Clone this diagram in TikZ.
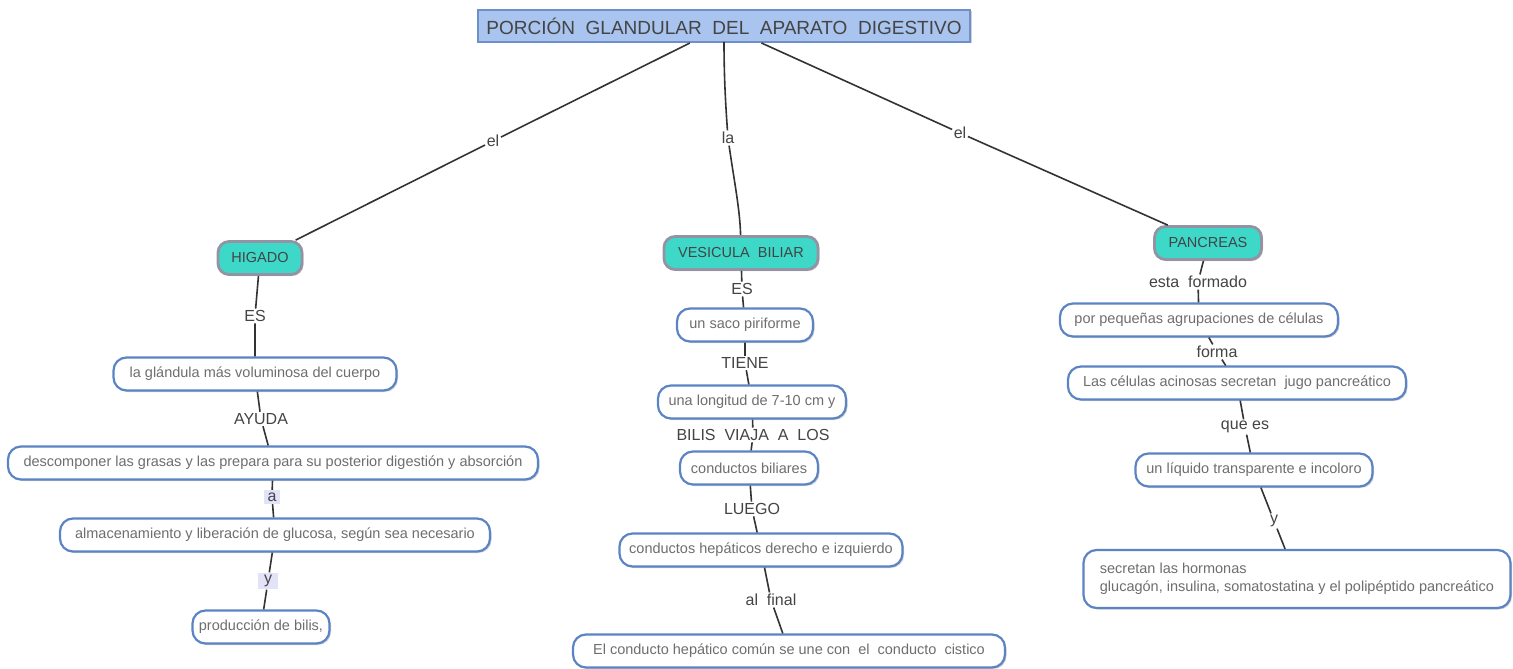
\documentclass[tikz,border=0pt]{standalone}
\usepackage{fontspec}
\setmainfont{Liberation Sans}
\usetikzlibrary{shadows}
\definecolor{linegray}{HTML}{333333}
\definecolor{boxblue}{HTML}{5B84C4}
\definecolor{titlefill}{HTML}{A9C4EE}
\definecolor{titleedge}{HTML}{6F8FC8}
\definecolor{tealfill}{HTML}{3DD8C8}
\definecolor{tealedge}{HTML}{9393A3}
\definecolor{bodytext}{HTML}{6E6E6E}
\definecolor{labeltext}{HTML}{444444}
\definecolor{lavender}{HTML}{E2E2F8}
\begin{document}
\begin{tikzpicture}[x=1pt,y=-1pt,
  link/.style={draw=linegray, line width=1.6pt},
  softshadow/.style={drop shadow={shadow xshift=1.5pt, shadow yshift=-1.5pt, fill=black!40, opacity=.45}},
  concept/.style={draw=boxblue, line width=2.2pt, fill=white, rounded corners=13pt,
    minimum height=33pt, text=bodytext, inner xsep=6pt,
    font=\fontsize{14.5}{18}\selectfont, softshadow},
  mainbox/.style={draw=tealedge, line width=2.8pt, fill=tealfill, rounded corners=11pt,
    minimum height=33pt, text=labeltext, inner xsep=6pt,
    font=\fontsize{14.5}{18}\selectfont, softshadow},
  titlebox/.style={draw=titleedge, line width=2pt, fill=titlefill, minimum height=32pt,
    text=labeltext, font=\fontsize{19}{22}\selectfont, softshadow},
  lbl/.style={fill=white, inner sep=1.5pt, text=labeltext, font=\fontsize{16}{18}\selectfont},
  hl/.style={lbl, fill=lavender, inner xsep=4pt, inner ysep=2.5pt}]
\useasboundingbox (0,0) rectangle (1513,669);

% root
\node[titlebox, minimum width=492pt] (root) at (724,26)
  {PORCIÓN\ \ GLANDULAR\ \ DEL\ \ APARATO\ \ DIGESTIVO};

% main branches
\node[mainbox, minimum width=84pt] (hig) at (260,258) {HIGADO};
\node[mainbox, minimum width=154pt] (ves) at (741,253) {VESICULA\ \ BILIAR};
\node[mainbox, minimum width=107pt] (pan) at (1208,243) {PANCREAS};

\node[lbl] (l1) at (493,141) {el};
\node[lbl] (l2) at (728,138) {la};
\node[lbl] (l3) at (960,133) {el};
\coordinate (rootmid) at (724,42);

\draw[link] (root) -- (l1) -- (hig);
\draw[link] (rootmid) .. controls (724,80) and (726,110) .. (l2);
\draw[link] (l2) .. controls (734,180) and (740,210) .. (ves);
\draw[link] (root) -- (l3) -- (pan);

% liver chain
\node[concept, minimum width=283pt] (h1) at (255,374) {la glándula más voluminosa del cuerpo};
\node[concept, minimum width=530pt] (h2) at (273,463) {descomponer las grasas y las prepara para su posterior digestión y absorción};
\node[concept, minimum width=430pt] (h3) at (275,535) {almacenamiento y liberación de glucosa, según sea necesario};
\node[concept, minimum width=137pt] (h4) at (261,627) {producción de bilis,};

\node[lbl] (hl1) at (255,316) {ES};
\node[lbl] (hl2) at (261,419) {AYUDA};
\node[hl] (hl3) at (272,497) {a};
\node[hl, inner xsep=6pt] (hl4) at (268,581) {y};

\draw[link] (hig) -- (hl1) -- (h1);
\draw[link] (h1) -- (hl2) -- (h2);
\draw[link] (h2) -- (hl3) -- (h3);
\draw[link] (h3) -- (hl4) -- (h4);

% gallbladder chain
\node[concept, minimum width=136pt] (v1) at (745,325) {un saco piriforme};
\node[concept, minimum width=188pt] (v2) at (752,402) {una longitud de 7-10 cm y};
\node[concept, minimum width=138pt] (v3) at (749,468) {conductos biliares};
\node[concept, minimum width=283pt] (v4) at (761,550) {conductos hepáticos derecho e izquierdo};
\node[concept, minimum width=432pt] (v5) at (789,651) {El conducto hepático común se une con\ \ el\ \ conducto\ \ cistico};

\node[lbl] (vl1) at (742,289) {ES};
\node[lbl] (vl2) at (745,363) {TIENE};
\node[lbl] (vl3) at (753,435) {BILIS\ \ VIAJA\ \ A\ \ LOS};
\node[lbl] (vl4) at (752,509) {LUEGO};
\node[lbl] (vl5) at (771,600) {al\ \ final};

\draw[link] (ves) -- (vl1) -- (v1);
\draw[link] (v1) -- (vl2) -- (v2);
\draw[link] (v2) -- (vl3) -- (v3);
\draw[link] (v3) -- (vl4) -- (v4);
\draw[link] (v4) -- (vl5) -- (v5);

% pancreas chain
\node[concept, minimum width=278pt] (p1) at (1199,320) {por pequeñas agrupaciones de células};
\node[concept, minimum width=338pt] (p2) at (1237,383) {Las células acinosas secretan\ \ jugo pancreático};
\node[concept, minimum width=237pt] (p3) at (1254,470) {un líquido transparente e incoloro};
\node[concept, minimum width=427pt, minimum height=58pt, align=left] (p4) at (1297,579)
  {secretan las hormonas\\glucagón, insulina, somatostatina y el polipéptido pancreático};

\node[lbl] (pl1) at (1198,282) {esta\ \ formado};
\node[lbl] (pl2) at (1217,352) {forma};
\node[lbl] (pl3) at (1245,427) {que es};
\node[lbl] (pl4) at (1274,521) {y};

\draw[link] (pan) -- (pl1) -- (p1);
\draw[link] (p1) -- (pl2) -- (p2);
\draw[link] (p2) -- (pl3) -- (p3);
\draw[link] (p3) -- (pl4) -- (p4);
\end{tikzpicture}
\end{document}
